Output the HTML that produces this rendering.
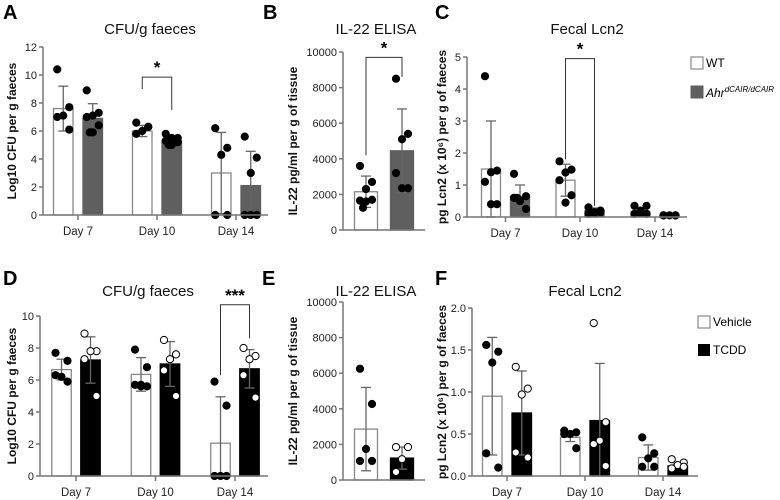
<!DOCTYPE html>
<html><head><meta charset="utf-8"><style>
html,body{margin:0;padding:0;background:#fff;}
svg{display:block;font-family:"Liberation Sans",Arial,sans-serif;}
</style></head><body>
<svg id="fig" width="780" height="500" viewBox="0 0 780 500">
<g font-weight="bold" font-size="20" fill="#000">
<text x="3" y="19">A</text>
<text x="263" y="19">B</text>
<text x="435" y="19">C</text>
<text x="3" y="285">D</text>
<text x="262" y="285">E</text>
<text x="435" y="285">F</text>
</g>
<g font-size="12">
<rect x="691" y="57" width="12" height="12" fill="#fff" stroke="#888" stroke-width="1.2"/>
<text x="706" y="67">WT</text>
<rect x="691" y="86" width="12" height="12" fill="#5f5f5f" stroke="#5f5f5f"/>
<text x="706" y="97" font-style="italic">Ahr<tspan font-size="8" dy="-5">dCAIR/dCAIR</tspan></text>
</g>
<g font-size="12">
<rect x="698" y="316" width="12" height="12" fill="#fff" stroke="#888" stroke-width="1.2"/>
<text x="713" y="326">Vehicle</text>
<rect x="698" y="344" width="12" height="12" fill="#000"/>
<text x="713" y="354">TCDD</text>
</g>
</svg>
<script>
// ---- data ----
const dayCats = ['Day 7', 'Day 10', 'Day 14'];
const aTicks = [0, 2, 4, 6, 8, 10, 12];
const aWtMean = [7.6, 6.0, 3.0];
const aWtSd = [1.6, 0.4, 2.9];
const aKoMean = [6.9, 5.3, 2.1];
const aKoSd = [1.05, 0.25, 2.45];
const aWtPts = [[10.4, 7.7, 7.1, 7.0, 6.1], [6.6, 6.3, 6.0, 5.8, 6.3], [6.2, 4.8, 4.3, 0, 0]];
const aKoPts = [[8.9, 7.3, 7.1, 7.0, 6.4, 5.9, 5.9], [5.8, 5.5, 5.5, 5.3, 5.2, 5.0, 5.0], [5.6, 4.1, 3.0, 0, 0, 0]];
const aSig = [1, 9.85, 9.0, 7.5, '*'];

const bTicks = [0, 2000, 4000, 6000, 8000, 10000];
const bWtMean = [2150];
const bWtSd = [880];
const bKoMean = [4450];
const bKoSd = [2350];
const bWtPts = [[3600, 2700, 2300, 1650, 1700, 1600, 1250]];
const bKoPts = [[8500, 5400, 5100, 3200, 2350, 2350]];
const bSig = [0, 9700, 4200, 8600, '*'];

const cTicks = [0, 1, 2, 3, 4, 5];
const cWtMean = [1.5, 1.15, 0.17];
const cWtSd = [1.5, 0.5, 0.1];
const cKoMean = [0.65, 0.2, 0.05];
const cKoSd = [0.35, 0.08, 0.01];
const cWtPts = [[4.4, 1.45, 1.4, 1.1, 0.4, 0.4], [1.74, 1.48, 1.39, 1.15, 0.68, 0.45], [0.35, 0.35, 0.2, 0.1, 0.1, 0.12]];
const cKoPts = [[1.35, 0.65, 0.5, 0.6, 0.25, 0.5, 0.6], [0.3, 0.2, 0.15, 0.1, 0.15, 0.12], [0.05, 0.05, 0.05, 0.05, 0.05]];
const cSig = [1, 4.95, 1.8, 0.35, '*'];

const dTicks = [0, 2, 4, 6, 8, 10];
const dVehMean = [6.65, 6.35, 2.05];
const dVehSd = [0.65, 1.05, 2.9];
const dTcddMean = [7.25, 7.0, 6.7];
const dTcddSd = [1.45, 1.4, 1.2];
const dVehPts = [[7.7, 7.2, 6.2, 6.3, 5.9], [7.9, 6.8, 5.7, 5.7, 5.6, 5.6], [5.9, 4.4, 0, 0, 0]];
const dTcddPts = [[8.9, 7.8, 7.8, 7.3, 5.0], [8.5, 7.6, 7.3, 6.6, 5.0], [8.0, 7.5, 7.3, 6.3, 4.9]];
const dSig = [2, 10.7, 6.3, 8.6, '***'];

const eTicks = [0, 2000, 4000, 6000, 8000, 10000];
const eVehMean = [2860];
const eVehSd = [2340];
const eTcddMean = [1230];
const eTcddSd = [620];
const eVehPts = [[6250, 4270, 1740, 1070, 1070]];
const eTcddPts = [[1850, 1850, 1170, 450]];

const fTicks = [0, 0.5, 1.0, 1.5, 2.0];
const fVehMean = [0.95, 0.46, 0.22];
const fVehSd = [0.7, 0.05, 0.15];
const fTcddMean = [0.75, 0.66, 0.12];
const fTcddSd = [0.5, 0.68, 0.02];
const fVehPts = [[1.56, 1.48, 1.35, 0.27, 0.1], [0.54, 0.52, 0.5, 0.5, 0.33], [0.46, 0.27, 0.21, 0.11, 0.11]];
const fTcddPts = [[1.3, 1.04, 0.97, 0.28, 0.22], [1.82, 0.64, 0.42, 0.38, 0.12], [0.2, 0.16, 0.13, 0.09, 0.11]];

// ---- drawing ----
const NS = 'http://www.w3.org/2000/svg';
const svg = document.getElementById('fig');
function mk(tag, attrs, parent) {
  const e = document.createElementNS(NS, tag);
  for (const k in attrs) e.setAttribute(k, attrs[k]);
  (parent || svg).appendChild(e);
  return e;
}
const JIT = [-6, 6, 0, -6, 6, 0, -3, 3];

function panel(p) {
  const g = mk('g', {});
  
  
  const yS = v => p.y0 - (v / p.max) * (p.y0 - p.yTop);
  const t = mk('text', {x: p.tx, y: p.ty, 'text-anchor': 'middle', 'font-size': 15, fill: '#111'}, g);
  t.textContent = p.title;
  
  
  const yl = mk('text', {transform: `translate(${p.lx},${(p.y0 + p.yTop) / 2}) rotate(-90)`, 'text-anchor': 'middle', 'font-size': 12, 'font-weight': 'bold', fill: '#111'}, g);
  yl.textContent = p.ylabel;
  
  
  const nG = p.centers.length;
  for (let i = 0; i < nG; i++) {
    const series = [[p.m1, p.s1, p.p1, p.f1, p.pf1, p.ps1, -1], [p.m2, p.s2, p.p2, p.f2, p.pf2, p.ps2, 1]];
    series.forEach((s, si) => {
      const cx = p.centers[i] + s[6] * p.off;
      const top = yS(s[0][i]);
      const r = mk('rect', {x: cx - p.bw / 2, y: top, width: p.bw, height: p.y0 - top, fill: s[3], stroke: s[3] === '#fff' ? '#888' : s[3], 'stroke-width': 1.3}, g);
      
      
      const hi = yS(s[0][i] + s[1][i]), lo = yS(Math.max(0, s[0][i] - s[1][i]));
      const eg = mk('g', {stroke: '#666', 'stroke-width': 1.3}, g);
      
      
      mk('line', {x1: cx, x2: cx, y1: hi, y2: lo}, eg);
      mk('line', {x1: cx - 5, x2: cx + 5, y1: hi, y2: hi}, eg);
      mk('line', {x1: cx - 5, x2: cx + 5, y1: lo, y2: lo}, eg);
      s[2][i].forEach((v, k) => {
        const c = mk('circle', {cx: cx + JIT[k % JIT.length], cy: yS(v), r: 3.6, fill: s[4], stroke: s[5], 'stroke-width': 1}, g);
        
        
      });
    });
  }
  const ax = mk('g', {stroke: '#777', 'stroke-width': 1.5}, g);
  
  
  mk('line', {x1: p.x0, x2: p.x0, y1: p.yTop, y2: p.y0}, ax);
  mk('line', {x1: p.x0, x2: p.xEnd, y1: p.y0, y2: p.y0}, ax);
  p.ticks.forEach(v => {
    mk('line', {x1: p.x0 - 4, x2: p.x0, y1: yS(v), y2: yS(v)}, ax);
    const tl = mk('text', {x: p.x0 - 6, y: yS(v) + 4, 'text-anchor': 'end', 'font-size': 11, fill: '#222', stroke: 'none'}, g);
    tl.textContent = p.fmt ? p.fmt(v) : v;
    
    
  });
  if (p.cats) p.cats.forEach((c, i) => {
    mk('line', {x1: p.centers[i], x2: p.centers[i], y1: p.y0, y2: p.y0 + 5}, ax);
    const xl = mk('text', {x: p.centers[i], y: p.y0 + 20, 'text-anchor': 'middle', 'font-size': 11.5, fill: '#222'}, g);
    xl.textContent = c;
    
    
  });
  if (p.sig) {
    const i = p.sig[0];
    const xa = p.centers[i] - p.off, xb = p.centers[i] + p.off;
    const bt = yS(p.sig[1]);
    const br = mk('path', {d: `M${xa},${yS(p.sig[2])}V${bt}H${xb}V${yS(p.sig[3])}`, fill: 'none', stroke: '#333', 'stroke-width': 1}, g);
    
    
    const st = mk('text', {x: (xa + xb) / 2, y: bt - 4, 'text-anchor': 'middle', 'font-size': 17, 'font-weight': 'bold'}, g);
    st.textContent = p.sig[4];
    
    
  }
}
const black = '#000', dark = '#5f5f5f', white = '#fff';
panel({name: 'panel-a-cfu', title: 'CFU/g faeces', tx: 150, ty: 34, ylabel: 'Log10 CFU per g faeces', lx: 16,
  x0: 43, y0: 215, yTop: 47, max: 12, ticks: aTicks, xEnd: 268, centers: [78, 157, 236], off: 14.75, bw: 19.5, cats: dayCats,
  m1: aWtMean, s1: aWtSd, p1: aWtPts, f1: white, pf1: black, ps1: black,
  m2: aKoMean, s2: aKoSd, p2: aKoPts, f2: dark, pf2: black, ps2: black, sig: aSig});
panel({name: 'panel-b-il22', title: 'IL-22 ELISA', tx: 376, ty: 34, ylabel: 'IL-22 pg/ml per g of tissue', lx: 297,
  x0: 343, y0: 230, yTop: 52, max: 10000, ticks: bTicks, xEnd: 425, centers: [384], off: 18, bw: 23,
  m1: bWtMean, s1: bWtSd, p1: bWtPts, f1: white, pf1: black, ps1: black,
  m2: bKoMean, s2: bKoSd, p2: bKoPts, f2: dark, pf2: black, ps2: black, sig: bSig});
panel({name: 'panel-c-lcn2', title: 'Fecal Lcn2', tx: 587, ty: 34, ylabel: 'pg Lcn2 (x 10\u2076) per g of faeces', lx: 446,
  x0: 467, y0: 217, yTop: 57, max: 5, ticks: cTicks, xEnd: 687, centers: [505.5, 580, 655], off: 14.5, bw: 19, cats: dayCats,
  m1: cWtMean, s1: cWtSd, p1: cWtPts, f1: white, pf1: black, ps1: black,
  m2: cKoMean, s2: cKoSd, p2: cKoPts, f2: dark, pf2: black, ps2: black, sig: cSig});
panel({name: 'panel-d-cfu', title: 'CFU/g faeces', tx: 148, ty: 296, ylabel: 'Log10 CFU per g faeces', lx: 16,
  x0: 40, y0: 476, yTop: 316, max: 10, ticks: dTicks, xEnd: 268, centers: [76, 155.5, 235], off: 14.5, bw: 19.5, cats: dayCats,
  m1: dVehMean, s1: dVehSd, p1: dVehPts, f1: white, pf1: black, ps1: black,
  m2: dTcddMean, s2: dTcddSd, p2: dTcddPts, f2: black, pf2: white, ps2: black, sig: dSig});
panel({name: 'panel-e-il22', title: 'IL-22 ELISA', tx: 376, ty: 296, ylabel: 'IL-22 pg/ml per g of tissue', lx: 297,
  x0: 343, y0: 480, yTop: 302, max: 10000, ticks: eTicks, xEnd: 425, centers: [384], off: 18, bw: 23,
  m1: eVehMean, s1: eVehSd, p1: eVehPts, f1: white, pf1: black, ps1: black,
  m2: eTcddMean, s2: eTcddSd, p2: eTcddPts, f2: black, pf2: white, ps2: black});
panel({name: 'panel-f-lcn2', title: 'Fecal Lcn2', tx: 585, ty: 296, ylabel: 'pg Lcn2 (x 10\u2076) per g of faeces', lx: 446,
  x0: 472, y0: 476, yTop: 308, max: 2, ticks: fTicks, xEnd: 698, centers: [507, 585, 663], off: 14.75, bw: 19.5, cats: dayCats,
  fmt: v => v.toFixed(1),
  m1: fVehMean, s1: fVehSd, p1: fVehPts, f1: white, pf1: black, ps1: black,
  m2: fTcddMean, s2: fTcddSd, p2: fTcddPts, f2: black, pf2: white, ps2: black});
</script>
</body></html>
